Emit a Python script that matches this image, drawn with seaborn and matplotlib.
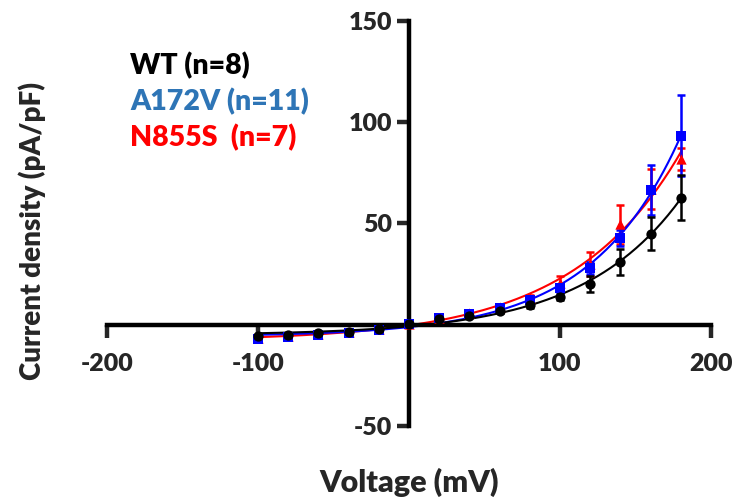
import numpy as np
import pandas as pd
import matplotlib
matplotlib.use("Agg")
import matplotlib.pyplot as plt
import seaborn as sns

sns.set_theme(style="white")
plt.rcParams['font.family'] = ['Lato', 'DejaVu Sans']
plt.rcParams['font.weight'] = 'heavy'
plt.rcParams['axes.unicode_minus'] = False

voltage = [-100, -80, -60, -40, -20, 0, 20, 40, 60, 80, 100, 120, 140, 160, 180]
wt_mean = [-5.5, -5.0, -4.0, -3.5, -2.0, 0.5, 3.0, 4.5, 7.0, 9.5, 13.7, 20.0, 31.0, 45.0, 62.7]
wt_err = [0.6, 0.6, 0.6, 0.6, 0.5, 0.5, 0.5, 0.8, 1.0, 1.2, 1.5, 4.0, 6.5, 8.0, 11.0]
a172v_mean = [-7.0, -6.0, -5.0, -4.0, -2.5, 0.5, 3.5, 5.5, 8.5, 12.4, 18.3, 28.0, 43.0, 66.5, 93.2]
a172v_err = [0.7, 0.6, 0.6, 0.5, 0.5, 0.5, 0.6, 0.8, 1.0, 1.5, 2.0, 3.0, 4.0, 12.5, 20.0]
n855s_mean = [-6.5, -5.5, -4.5, -3.5, -2.0, 0.5, 3.5, 6.0, 9.0, 13.0, 20.5, 30.0, 49.5, 67.0, 82.0]
n855s_err = [0.6, 0.6, 0.5, 0.5, 0.5, 0.5, 0.6, 0.8, 1.0, 1.5, 3.5, 6.0, 9.5, 10.0, 5.5]

x_ticks = [-200, -100, 100, 200]
y_ticks = [-50, 50, 100, 150]

labels = ["WT (n=8)", "A172V (n=11)", "N855S  (n=7)"]
label_colors = ["#000000", "#2E75B6", "#FF0000"]

series = [
    ("N855S", n855s_mean, n855s_err, "#FF0000", "^"),
    ("A172V", a172v_mean, a172v_err, "#0000FF", "s"),
    ("WT", wt_mean, wt_err, "#000000", "o"),
]


def exp_fit(x, y):
    x = np.asarray(x, float)
    y = np.asarray(y, float)
    best = None
    for b in np.linspace(0.002, 0.05, 961):
        A = np.column_stack([np.exp(b * x), np.ones_like(x)])
        coef, *_ = np.linalg.lstsq(A, y, rcond=None)
        r = np.sum((A @ coef - y) ** 2)
        if best is None or r < best[0]:
            best = (r, b, coef)
    _, b, (a, c) = best
    xs = np.linspace(x.min(), x.max(), 200)
    return xs, a * np.exp(b * xs) + c


fig = plt.figure(figsize=(7.38, 5.04), dpi=100)
ax = fig.add_axes([0.145, 0.1548, 0.8184, 0.8036])

for name, m, e, col, mk in series:
    xs, ys = exp_fit(voltage, m)
    sns.lineplot(x=xs, y=ys, ax=ax, color=col, lw=1.5, zorder=2)
    ax.errorbar(voltage, m, yerr=e, fmt="none", ecolor=col, elinewidth=1.8,
                capsize=3, capthick=1.8, zorder=3)
    df = pd.DataFrame({"V": voltage, "I": m})
    sns.scatterplot(data=df, x="V", y="I", ax=ax, color=col, marker=mk, s=55,
                    edgecolor=col, linewidth=0, zorder=4)

ax.set_xlim(-200, 200)
ax.set_ylim(-50, 150)
ax.spines['left'].set_position(('data', 0))
ax.spines['bottom'].set_position(('data', 0))
ax.spines['right'].set_visible(False)
ax.spines['top'].set_visible(False)
for s in ['left', 'bottom']:
    ax.spines[s].set_linewidth(3.2)
    ax.spines[s].set_color('black')
ax.set_xticks(x_ticks)
ax.set_yticks(y_ticks)
ax.set_xticklabels([str(v) for v in x_ticks], fontsize=18, fontweight='heavy')
ax.set_yticklabels([str(v) for v in y_ticks], fontsize=18, fontweight='heavy')
ax.tick_params(axis='x', direction='out', length=9, width=3.2, pad=11,
               bottom=True)
ax.tick_params(axis='y', direction='out', length=9, width=3.2, pad=3,
               left=True)
ax.set_xlabel("")
ax.set_ylabel("")

fig.text(0.555, 0.042, "Voltage (mV)", ha='center', va='center', fontsize=22,
         fontweight='heavy')
fig.text(0.043, 0.542, "Current density (pA/pF)", ha='center', va='center',
         fontsize=20, fontweight='heavy', rotation=90)

for i, (lab, c) in enumerate(zip(labels, label_colors)):
    fig.text(0.176, 0.869 - i * 0.071, lab, color=c, fontsize=20.5,
             fontweight='heavy', ha='left', va='center')

fig.savefig("out.png", dpi=100)
